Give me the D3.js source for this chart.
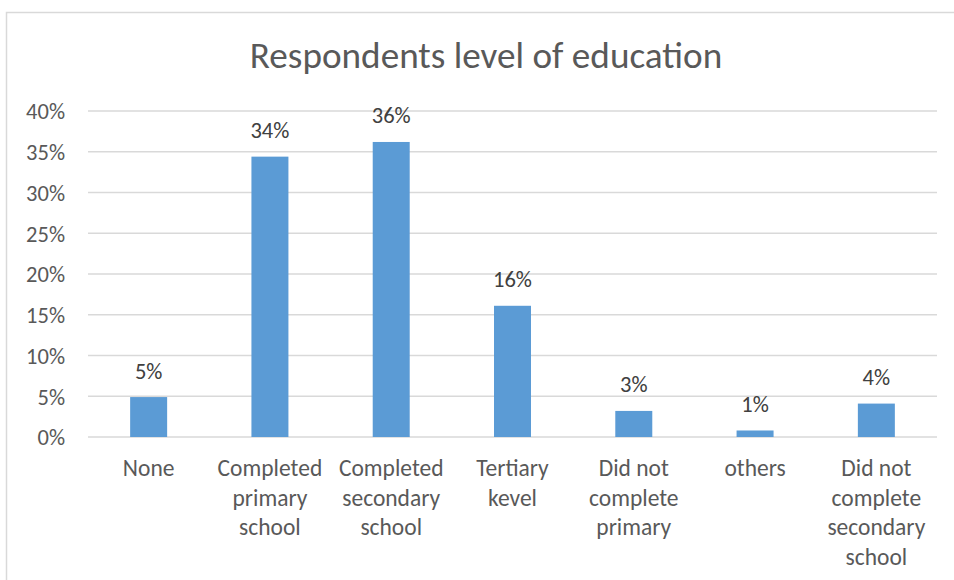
<!DOCTYPE html>
<html>
<head>
<meta charset="utf-8">
<script src="https://cdn.jsdelivr.net/npm/d3@7"></script>
<style>
  html, body { margin: 0; padding: 0; background: #ffffff; }
  svg { display: block; }
  text { font-family: Carlito, Lato, "Open Sans", sans-serif; }
</style>
</head>
<body>
<script>
// Education level categories (each entry holds the wrapped lines of its label)
const categories = [
  ["None"],
  ["Completed", "primary", "school"],
  ["Completed", "secondary", "school"],
  ["Tertiary", "kevel"],
  ["Did not", "complete", "primary"],
  ["others"],
  ["Did not", "complete", "secondary", "school"]
];
// Share of respondents per category
const shares = [0.049, 0.344, 0.362, 0.161, 0.032, 0.008, 0.041];
// Y axis ticks
const yTicks = [0, 0.05, 0.10, 0.15, 0.20, 0.25, 0.30, 0.35, 0.40];

const width = 954, height = 580;
const margin = { top: 111, right: 17, bottom: 143, left: 88 };

const svg = d3.select("body").append("svg")
  .attr("width", width)
  .attr("height", height);

// Chart frame
svg.append("path")
  .attr("d", `M6.5,${height} V12.5 H${width}`)
  .attr("fill", "none")
  .attr("stroke", "#d9d9d9")
  .attr("stroke-width", 1.5);

const x = d3.scaleBand()
  .domain(categories.map((d, i) => i))
  .range([margin.left, width - margin.right])
  .paddingInner(0.695)
  .paddingOuter(0.3475);

const y = d3.scaleLinear()
  .domain([0, 0.40])
  .range([height - margin.bottom, margin.top]);

const pct = d3.format(".0%");

// Title
svg.append("text")
  .attr("x", 486)
  .attr("y", 68)
  .attr("text-anchor", "middle")
  .attr("fill", "#595959")
  .attr("font-size", 37.2)
  .text("Respondents level of education");

// Gridlines
svg.append("g")
  .selectAll("line")
  .data(yTicks)
  .join("line")
  .attr("x1", margin.left)
  .attr("x2", width - margin.right)
  .attr("y1", d => y(d))
  .attr("y2", d => y(d))
  .attr("stroke", "#d9d9d9")
  .attr("stroke-width", 1.3);

// Y axis labels
const yAxis = d3.axisLeft(y)
  .tickValues(yTicks)
  .tickFormat(pct)
  .tickSize(0)
  .tickPadding(0);

svg.append("g")
  .attr("transform", `translate(65,0)`)
  .call(yAxis)
  .call(g => g.select(".domain").remove())
  .call(g => g.selectAll("text")
    .attr("fill", "#595959")
    .attr("font-size", 22.5)
    .attr("dy", "0.35em"));

// Bars
svg.append("g")
  .selectAll("rect")
  .data(shares)
  .join("rect")
  .attr("x", (d, i) => x(i))
  .attr("width", x.bandwidth())
  .attr("y", d => y(d))
  .attr("height", d => y(0) - y(d))
  .attr("fill", "#5b9bd5");

// Value labels
svg.append("g")
  .selectAll("text")
  .data(shares)
  .join("text")
  .attr("x", (d, i) => x(i) + x.bandwidth() / 2)
  .attr("y", d => y(d) - 18.5)
  .attr("text-anchor", "middle")
  .attr("fill", "#404040")
  .attr("font-size", 22.5)
  .text(d => pct(d));

// Category labels
const xLabels = svg.append("g")
  .selectAll("text")
  .data(categories)
  .join("text")
  .attr("x", (d, i) => x(i) + x.bandwidth() / 2)
  .attr("y", 476)
  .attr("text-anchor", "middle")
  .attr("fill", "#595959")
  .attr("font-size", 23.5);

xLabels.selectAll("tspan")
  .data(d => d)
  .join("tspan")
  .attr("x", function () { return this.parentNode.getAttribute("x"); })
  .attr("dy", (d, i) => i === 0 ? 0 : 29.5)
  .text(d => d);
</script>
</body>
</html>
